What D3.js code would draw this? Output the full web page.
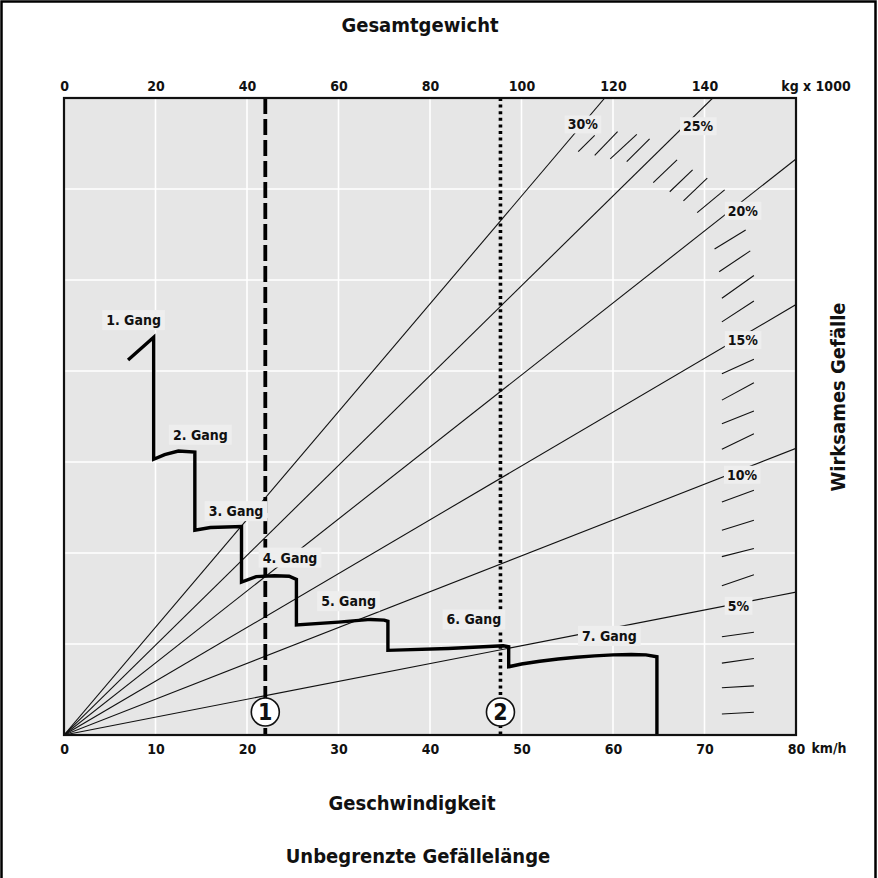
<!DOCTYPE html>
<html>
<head>
<meta charset="utf-8">
<script src="https://cdn.jsdelivr.net/npm/d3@7"></script>
<style>
  html, body { margin: 0; padding: 0; background: #ffffff; }
  svg { display: block; }
  text { font-family: "Liberation Sans Narrow", "Arial Narrow", "DejaVu Sans Condensed", sans-serif; font-weight: bold; fill: #111; }
</style>
</head>
<body>
<svg id="chart" width="878" height="878"></svg>
<script>
// ---------- DATA ----------
const speedTicks = [0, 10, 20, 30, 40, 50, 60, 70, 80];
const weightTicks = [0, 20, 40, 60, 80, 100, 120, 140];
const weightUnitLabel = "kg x 1000";
const speedUnitLabel = "km/h";

// grade lines (from origin), end points [speed, level]
const gradeLabels = ["30%", "25%", "20%", "15%", "10%", "5%"];
const gradeEndSpeed = [59.1, 70.9, 80, 80, 80, 80];
const gradeEndLevel = [7.0, 7.0, 6.33, 4.73, 3.15, 1.57];
// label positions [speed, level]
const gradeLabelPos = [[56.7, 6.71], [69.3, 6.69], [74.2, 5.76], [74.2, 4.34], [74.1, 2.86], [73.7, 1.42]];

// gear curve (speed km/h, level)
const gearCurve = [
  [7.0, 4.12], [9.8, 4.37], [9.8, 3.03], [11.0, 3.08], [12.5, 3.12], [14.3, 3.11],
  [14.3, 2.25], [16.0, 2.28], [19.4, 2.29], [19.4, 1.68], [21.0, 1.74], [23.0, 1.75],
  [24.6, 1.745], [25.4, 1.71], [25.4, 1.21], [30.0, 1.24], [33.5, 1.27], [35.0, 1.262], [35.4, 1.25],
  [35.4, 0.93], [42.0, 0.95], [48.0, 0.98], [48.6, 0.97], [48.6, 0.75], [50.0, 0.78],
  [52.0, 0.81], [54.0, 0.835], [56.0, 0.855], [58.0, 0.87], [60.0, 0.88], [62.0, 0.885],
  [63.6, 0.88], [64.8, 0.86], [64.8, 0.0]
];
const gearLabels = ["1. Gang", "2. Gang", "3. Gang", "4. Gang", "5. Gang", "6. Gang", "7. Gang"];
const gearLabelPos = [[7.6, 4.56], [14.9, 3.30], [18.8, 2.46], [24.7, 1.95], [31.1, 1.47], [44.8, 1.27], [59.6, 1.09]];

// hatch marks [speed1, level1, speed2, level2]
const hatchMarks = [
  [71.9, 0.23, 75.4, 0.25], [71.9, 0.52, 75.4, 0.54], [71.9, 0.79, 75.4, 0.84], [71.9, 1.08, 75.4, 1.13],
  [71.9, 1.64, 75.4, 1.76], [71.9, 1.96, 75.4, 2.05], [71.9, 2.25, 75.4, 2.36], [71.9, 2.56, 75.4, 2.69],
  [71.9, 3.14, 75.4, 3.31], [71.9, 3.42, 75.4, 3.56], [71.9, 3.68, 75.4, 3.87], [71.9, 3.97, 75.4, 4.13],
  [71.9, 4.54, 75.4, 4.77], [71.9, 4.80, 75.4, 5.05], [71.6, 5.09, 75.0, 5.32], [71.1, 5.34, 74.5, 5.55],
  [69.2, 5.74, 72.2, 5.99], [67.7, 5.87, 70.3, 6.12], [66.2, 5.97, 68.7, 6.21], [64.4, 6.07, 67.0, 6.32],
  [61.5, 6.30, 64.0, 6.55], [59.7, 6.33, 62.6, 6.60], [58.0, 6.37, 60.5, 6.63], [56.2, 6.41, 58.0, 6.59]
];

// reference lines
const refSpeeds = [22.0, 47.7];
const refLabels = ["1", "2"];

const titleTop = "Gesamtgewicht";
const titleBottom = "Geschwindigkeit";
const subtitle = "Unbegrenzte Gefällelänge";
const titleRight = "Wirksames Gefälle";

// ---------- LAYOUT ----------
const L = 64, R = 796, T = 98, B = 735;
const svg = d3.select("#chart");
const FONT = "'Liberation Sans Narrow', 'Arial Narrow', 'DejaVu Sans Condensed', sans-serif";

const x = d3.scaleLinear().domain([0, 80]).range([L, R]);
const xw = d3.scaleLinear().domain([0, 160]).range([L, R]);
const y = d3.scaleLinear().domain([0, 7]).range([B, T]);

// outer frame
svg.append("rect").attr("x", 1.5).attr("y", 1.5).attr("width", 874).attr("height", 890)
  .attr("fill", "none").attr("stroke", "#000").attr("stroke-width", 2.5);

// plot background
svg.append("rect").attr("x", L).attr("y", T).attr("width", R - L).attr("height", B - T)
  .attr("fill", "#e6e6e6");

// grid
const grid = svg.append("g").attr("stroke", "#ffffff").attr("stroke-width", 1.6);
grid.selectAll("line.v").data(d3.range(1, 8).map(i => i * 10)).join("line")
  .attr("x1", d => x(d)).attr("x2", d => x(d)).attr("y1", T).attr("y2", B);
grid.selectAll("line.h").data(d3.range(1, 7)).join("line")
  .attr("y1", d => y(d)).attr("y2", d => y(d)).attr("x1", L).attr("x2", R);

svg.append("defs").append("clipPath").attr("id", "plotclip")
  .append("rect").attr("x", L).attr("y", T).attr("width", R - L).attr("height", B - T);

const plot = svg.append("g").attr("clip-path", "url(#plotclip)");

// grade lines
plot.selectAll("line.grade").data(gradeLabels).join("line")
  .attr("x1", x(0)).attr("y1", y(0))
  .attr("x2", (d, i) => x(gradeEndSpeed[i])).attr("y2", (d, i) => y(gradeEndLevel[i]))
  .attr("stroke", "#111").attr("stroke-width", 1.1);

// hatch marks
plot.selectAll("line.hatch").data(hatchMarks).join("line")
  .attr("x1", d => x(d[0])).attr("y1", d => y(d[1]))
  .attr("x2", d => x(d[2])).attr("y2", d => y(d[3]))
  .attr("stroke", "#111").attr("stroke-width", 1.1);

// reference lines
const refStyle = [{w: 3.8, dash: "16,5"}, {w: 3.6, dash: "3,3.6"}];
refSpeeds.forEach((s, i) => {
  plot.append("line").attr("x1", x(s)).attr("x2", x(s)).attr("y1", T).attr("y2", B)
    .attr("stroke", "#000").attr("stroke-width", refStyle[i].w)
    .attr("stroke-dasharray", refStyle[i].dash);
});

// boxed label helper
function boxedLabel(px, py, lab, padX, padY) {
  const g = svg.append("g");
  const t = g.append("text").attr("x", px).attr("y", py + 5).attr("text-anchor", "middle")
    .attr("font-size", 14).text(lab);
  const bb = t.node().getBBox();
  g.insert("rect", "text").attr("x", bb.x - padX).attr("y", bb.y - padY).attr("width", bb.width + 2 * padX)
    .attr("height", bb.height + 2 * padY).attr("fill", "#eeeeee");
}

// grade labels
gradeLabels.forEach((lab, i) => boxedLabel(x(gradeLabelPos[i][0]), y(gradeLabelPos[i][1]), lab, 3, 1));

// gear labels
gearLabels.forEach((lab, i) => boxedLabel(x(gearLabelPos[i][0]), y(gearLabelPos[i][1]), lab, 4, 2));

// gear curve
const lineGen = d3.line().x(d => x(d[0])).y(d => y(d[1]));
svg.append("path").datum(gearCurve).attr("d", lineGen)
  .attr("fill", "none").attr("stroke", "#000").attr("stroke-width", 3.4)
  .attr("stroke-linejoin", "miter");

// circles at bottom of ref lines
refSpeeds.forEach((s, i) => {
  svg.append("circle").attr("cx", x(s)).attr("cy", B - 23).attr("r", 14)
    .attr("fill", "#ffffff").attr("stroke", "#111").attr("stroke-width", 1.6);
  svg.append("text").attr("x", x(s)).attr("y", B - 23 + 8).attr("text-anchor", "middle")
    .attr("font-size", 23).text(refLabels[i]);
});

// plot border
svg.append("rect").attr("x", L).attr("y", T).attr("width", R - L).attr("height", B - T)
  .attr("fill", "none").attr("stroke", "#111").attr("stroke-width", 2.2);

// bottom axis (speed)
const xAxis = d3.axisBottom(x).tickValues(speedTicks).tickSize(0).tickPadding(9);
const gx = svg.append("g").attr("transform", `translate(0,${B})`).call(xAxis);
gx.select(".domain").remove();
gx.selectAll("text").attr("font-size", 14).attr("fill", "#111")
  .style("font-family", FONT).style("font-weight", "bold");
svg.append("text").attr("x", 829).attr("y", 753).attr("text-anchor", "middle").attr("font-size", 14).text(speedUnitLabel);

// top axis (weight)
const xAxisTop = d3.axisTop(xw).tickValues(weightTicks).tickSize(0).tickPadding(7);
const gt = svg.append("g").attr("transform", `translate(0,${T})`).call(xAxisTop);
gt.select(".domain").remove();
gt.selectAll("text").attr("font-size", 14).attr("fill", "#111")
  .style("font-family", FONT).style("font-weight", "bold");
svg.append("text").attr("x", xw(160) + 20).attr("y", T - 7).attr("text-anchor", "middle").attr("font-size", 14).text(weightUnitLabel);

// titles
svg.append("text").attr("x", 420).attr("y", 32).attr("text-anchor", "middle").attr("font-size", 20).text(titleTop);
svg.append("text").attr("x", 412).attr("y", 810).attr("text-anchor", "middle").attr("font-size", 20).text(titleBottom);
svg.append("text").attr("x", 418).attr("y", 863).attr("text-anchor", "middle").attr("font-size", 20).text(subtitle);
svg.append("text").attr("transform", "translate(845,397) rotate(-90)").attr("text-anchor", "middle")
  .attr("font-size", 20).text(titleRight);
</script>
</body>
</html>
